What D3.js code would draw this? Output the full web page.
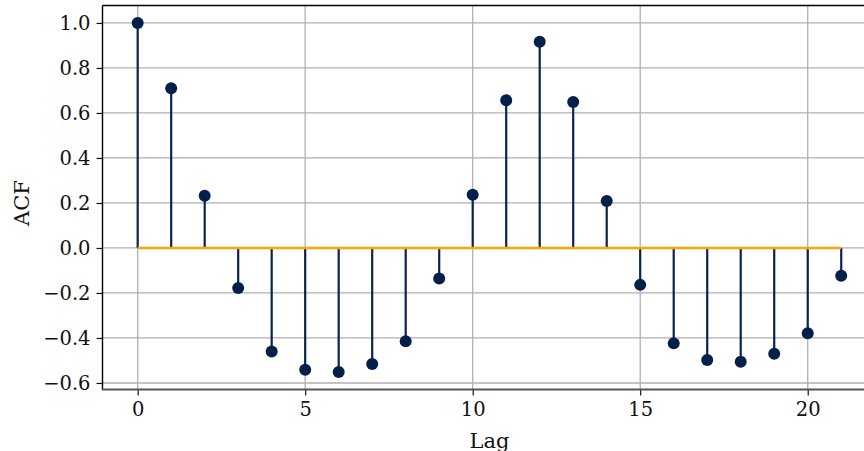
<!DOCTYPE html>
<html>
<head>
<meta charset="utf-8">
<script src="https://cdn.jsdelivr.net/npm/d3@7"></script>
<style>
  html, body { margin: 0; padding: 0; background: #fff; }
  svg { display: block; }
  text { font-family: "DejaVu Serif", serif; fill: #111; }
</style>
</head>
<body>
<svg id="chart" width="864" height="451"></svg>
<script>
// Autocorrelation values for lags 0..21
const lags = d3.range(0, 22);
const acf = [1.0, 0.710, 0.232, -0.178, -0.460, -0.541, -0.551, -0.516, -0.415, -0.136,
             0.237, 0.656, 0.916, 0.649, 0.209, -0.164, -0.424, -0.498, -0.506, -0.470,
             -0.379, -0.123];
const xTicks = [0, 5, 10, 15, 20];
const yTicks = [-0.6, -0.4, -0.2, 0.0, 0.2, 0.4, 0.6, 0.8, 1.0];

const svg = d3.select("#chart");
const plotLeft = 102.5, plotTop = 5.5, plotRight = 876.4, plotBottom = 389.4;

// 5% padding around the data range on both axes
const pad = (lo, hi) => { const m = (hi - lo) * 0.05; return [lo - m, hi + m]; };
const x = d3.scaleLinear().domain(pad(d3.min(lags), d3.max(lags))).range([plotLeft, plotRight]);
const y = d3.scaleLinear().domain(pad(d3.min(acf), d3.max(acf))).range([plotBottom, plotTop]);

const plot = svg.append("g");

// grid
plot.append("g").selectAll("line").data(yTicks).join("line")
  .attr("x1", plotLeft).attr("x2", plotRight)
  .attr("y1", d => y(d)).attr("y2", d => y(d))
  .attr("stroke", "#b0b0b0").attr("stroke-width", 1.3);
plot.append("g").selectAll("line").data(xTicks).join("line")
  .attr("y1", plotTop).attr("y2", plotBottom)
  .attr("x1", d => x(d)).attr("x2", d => x(d))
  .attr("stroke", "#b0b0b0").attr("stroke-width", 1.3);

// stems
plot.append("g").selectAll("line").data(lags).join("line")
  .attr("x1", d => x(d)).attr("x2", d => x(d))
  .attr("y1", y(0)).attr("y2", (d, i) => y(acf[i]))
  .attr("stroke", "#062452").attr("stroke-width", 2.2);

// baseline
plot.append("line")
  .attr("x1", x(d3.min(lags))).attr("x2", x(d3.max(lags)))
  .attr("y1", y(0)).attr("y2", y(0))
  .attr("stroke", "#ffa500").attr("stroke-width", 2.6);

// markers
plot.append("g").selectAll("circle").data(lags).join("circle")
  .attr("cx", d => x(d)).attr("cy", (d, i) => y(acf[i]))
  .attr("r", 6).attr("fill", "#03204a");

// axes
const xAxis = d3.axisBottom(x).tickValues(xTicks).tickFormat(d3.format("d"))
  .tickSize(6).tickPadding(7);
const yAxis = d3.axisLeft(y).tickValues(yTicks).tickFormat(d => d3.format(".1f")(d).replace("-", "\u2212"))
  .tickSize(6).tickPadding(6);

const gx = svg.append("g").attr("transform", `translate(0,${plotBottom})`).call(xAxis);
const gy = svg.append("g").attr("transform", `translate(${plotLeft},0)`).call(yAxis);
[gx, gy].forEach(g => {
  g.select(".domain").remove();
  g.selectAll(".tick line").attr("stroke", "#111").attr("stroke-width", 1.2);
  g.selectAll(".tick text").attr("font-family", "DejaVu Serif").attr("font-size", 19.5).attr("fill", "#111");
});

// spines
svg.append("line").attr("x1", plotLeft).attr("x2", plotLeft).attr("y1", plotTop).attr("y2", plotBottom)
  .attr("stroke", "#000").attr("stroke-width", 1.4);
svg.append("line").attr("x1", plotLeft).attr("x2", plotRight).attr("y1", plotTop).attr("y2", plotTop)
  .attr("stroke", "#000").attr("stroke-width", 1.4);
svg.append("line").attr("x1", plotLeft - 0.7).attr("x2", plotRight).attr("y1", plotBottom).attr("y2", plotBottom)
  .attr("stroke", "#555").attr("stroke-width", 2);

// axis labels
svg.append("text").attr("x", (plotLeft + plotRight) / 2).attr("y", 447.5)
  .attr("text-anchor", "middle").attr("font-size", 21).text("Lag");
svg.append("text").attr("transform", "translate(28.5,203) rotate(-90)")
  .attr("text-anchor", "middle").attr("font-size", 21).text("ACF");
</script>
</body>
</html>
